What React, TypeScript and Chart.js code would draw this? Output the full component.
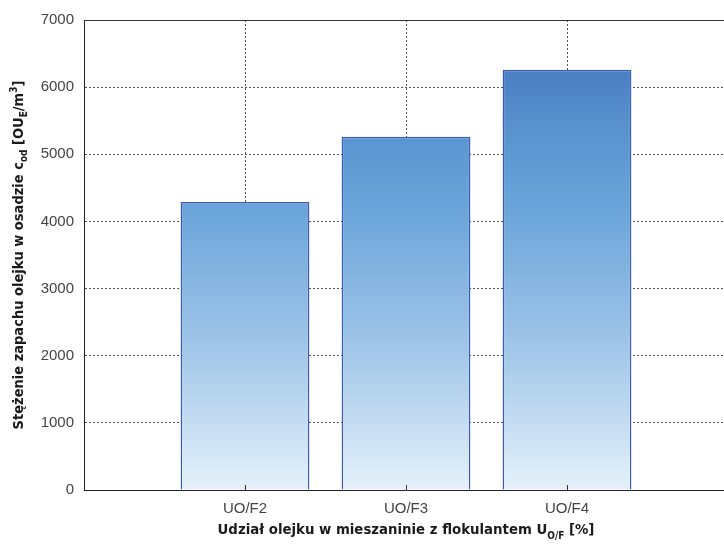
import React, { useEffect, useRef } from 'react';
import { Chart, registerables } from 'chart.js';
Chart.register(...registerables);

const categories = ['', 'UO/F2', 'UO/F3', 'UO/F4', ''];
const odourValues = [null, 4290, 5260, 6260, null];
const yMin = 0;
const yMax = 7000;
const yStep = 1000;
const xTitleParts = [
  { t: 'Udział olejku w mieszaninie z flokulantem U', s: 0 },
  { t: 'O/F', s: -1 },
  { t: ' [%]', s: 0 },
];
const yTitleParts = [
  { t: 'Stężenie zapachu olejku w osadzie c', s: 0 },
  { t: 'od', s: -1 },
  { t: ' [OU', s: 0 },
  { t: 'E', s: -1 },
  { t: '/m', s: 0 },
  { t: '3', s: 1 },
  { t: ']', s: 0 },
];

const TITLE_FAMILY = '"Liberation Sans Narrow", "DejaVu Sans Condensed", "Liberation Sans", Arial, sans-serif';
const TICK_FAMILY = '"Liberation Sans", Arial, sans-serif';

function drawParts(ctx: CanvasRenderingContext2D, parts: { t: string; s: number }[], size: number) {
  const fontFor = (s: number) => `bold ${s === 0 ? size : Math.round(size * 0.7)}px ${TITLE_FAMILY}`;
  let total = 0;
  const widths = parts.map((p) => {
    ctx.font = fontFor(p.s);
    const w = ctx.measureText(p.t).width;
    total += w;
    return w;
  });
  let x = -total / 2;
  ctx.textBaseline = 'alphabetic';
  ctx.textAlign = 'left';
  parts.forEach((p, i) => {
    ctx.font = fontFor(p.s);
    const dy = p.s < 0 ? size * 0.3 : p.s > 0 ? -size * 0.45 : 0;
    ctx.fillText(p.t, x, size * 0.35 + dy);
    x += widths[i];
  });
}

const decorPlugin = {
  id: 'decor',
  afterDraw(chart: any) {
    const { ctx, chartArea } = chart;
    const xs = chart.scales.x;
    ctx.save();
    ctx.strokeStyle = '#333';
    ctx.lineWidth = 1;
    ctx.beginPath();
    ctx.moveTo(chartArea.left, Math.round(chartArea.top) + 0.5);
    ctx.lineTo(chartArea.right, Math.round(chartArea.top) + 0.5);
    ctx.stroke();
    ctx.beginPath();
    for (let i = 1; i < categories.length - 1; i++) {
      const px = Math.round(xs.getPixelForTick(i)) + 0.5;
      ctx.moveTo(px, chartArea.bottom);
      ctx.lineTo(px, chartArea.bottom - 5);
    }
    ctx.stroke();
    ctx.fillStyle = '#1a1a1a';
    ctx.save();
    ctx.translate(406, 529);
    drawParts(ctx, xTitleParts, 14.8);
    ctx.restore();
    ctx.save();
    ctx.translate(18, (chartArea.top + chartArea.bottom) / 2);
    ctx.rotate(-Math.PI / 2);
    drawParts(ctx, yTitleParts, 14.5);
    ctx.restore();
    ctx.restore();
  },
};

export default function App() {
  const ref = useRef<HTMLCanvasElement>(null);
  useEffect(() => {
    const canvas = ref.current!;
    const chart = new Chart(canvas, {
      type: 'bar',
      data: {
        labels: categories,
        datasets: [
          {
            data: odourValues as any,
            backgroundColor: (c: any) => {
              const area = c.chart.chartArea;
              if (!area) return '#6aa3d9';
              const g = c.chart.ctx.createLinearGradient(0, area.top, 0, area.bottom);
              g.addColorStop(0, '#3f70bb');
              g.addColorStop(0.106, '#4a7fc3');
              g.addColorStop(0.25, '#5b95d0');
              g.addColorStop(0.39, '#68a3d9');
              g.addColorStop(0.69, '#9fc5e8');
              g.addColorStop(0.97, '#deedf9');
              g.addColorStop(1, '#e6f1fb');
              return g;
            },
            borderColor: '#3a5cb5',
            borderWidth: 1.5,
            barPercentage: 0.8,
            categoryPercentage: 1,
          },
        ],
      },
      options: {
        responsive: false,
        animation: false,
        devicePixelRatio: 1,
        layout: { padding: { top: 20, right: 4, left: 0, bottom: 0 } },
        plugins: { legend: { display: false }, tooltip: { enabled: false } },
        scales: {
          x: {
            type: 'category',
            offset: false,
            grid: {
              offset: false,
              drawTicks: false,
              color: (c: any) => (c.index >= 1 && c.index <= 3 ? '#555' : 'rgba(0,0,0,0)'),
              lineWidth: 1,
            },
            border: { display: true, color: '#222', width: 1, dash: [2, 2] },
            ticks: {
              padding: 10,
              color: '#444',
              font: { family: TICK_FAMILY, size: 15 },
              autoSkip: false,
              maxRotation: 0,
            },
            afterFit: (s: any) => {
              s.height = 56;
            },
          },
          y: {
            min: yMin,
            max: yMax,
            grid: {
              drawTicks: false,
              color: (c: any) =>
                c.tick && (c.tick.value === yMin || c.tick.value === yMax) ? 'rgba(0,0,0,0)' : '#555',
              lineWidth: 1,
            },
            border: { display: true, color: '#222', width: 1, dash: [2, 2] },
            ticks: {
              stepSize: yStep,
              padding: 10,
              color: '#444',
              font: { family: TICK_FAMILY, size: 15 },
              callback: (v: any) => String(v),
            },
            afterFit: (s: any) => {
              s.width = 84;
            },
          },
        },
      },
      plugins: [decorPlugin],
    });
    return () => chart.destroy();
  }, []);
  return (
    <div style={{ position: 'fixed', left: 0, top: 0, width: 724, height: 546, overflow: 'hidden', background: '#fff' }}>
      <canvas ref={ref} width={738} height={546} style={{ display: 'block', width: 738, height: 546 }} />
    </div>
  );
}
